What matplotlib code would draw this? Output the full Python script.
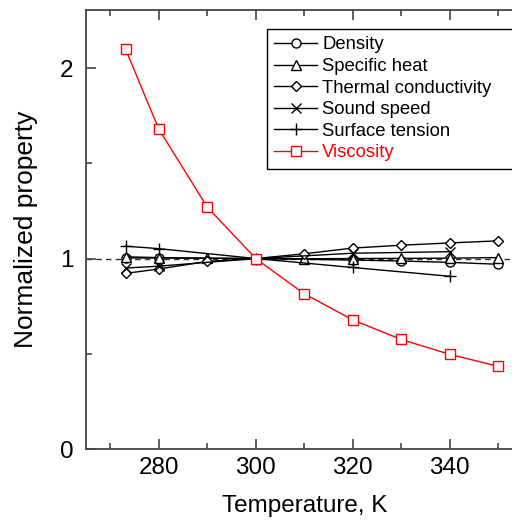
import numpy as np
import matplotlib
matplotlib.use("Agg")
import matplotlib.pyplot as plt

plt.rcParams['font.family'] = ['Liberation Sans', 'DejaVu Sans']

# 数据
T_density = [273.15, 280, 300, 320, 330, 340, 350]
density = [1.003, 1.003, 1.0, 0.992, 0.987, 0.980, 0.970]

T_cp = [273.15, 280, 290, 300, 310, 320, 330, 340, 350]
specific_heat = [1.009, 1.005, 1.002, 1.0, 0.999, 1.0, 1.001, 1.002, 1.005]

T_k = [273.15, 280, 290, 300, 310, 320, 330, 340, 350]
thermal_cond = [0.922, 0.945, 0.985, 1.0, 1.025, 1.055, 1.070, 1.082, 1.093]

T_sound = [273.15, 280, 300, 320, 340]
sound_speed = [0.950, 0.960, 1.0, 1.028, 1.036]

T_st = [273.15, 280, 300, 320, 340]
surface_tension = [1.065, 1.052, 1.0, 0.953, 0.907]

T_visc = [273.15, 280, 290, 300, 310, 320, 330, 340, 350]
viscosity = [2.10, 1.68, 1.27, 1.00, 0.815, 0.678, 0.575, 0.497, 0.434]

x_ticks = [280, 300, 320, 340]
y_ticks = [0, 1, 2]

fig = plt.figure(figsize=(5.12, 5.22), dpi=100)
ax = fig.add_axes([86 / 512, 73 / 522, 436.5 / 512, 439 / 522])

# 参考线 y=1
ax.axhline(1.0, color='#333333', linestyle=(0, (4, 3)), linewidth=1.0, zorder=1)

mk = dict(markersize=6.5, markerfacecolor='white', markeredgewidth=1.0,
          color='black', linewidth=1.0)
ax.plot(T_density, density, marker='o', label='Density', **mk)
ax.plot(T_cp, specific_heat, marker='^', label='Specific heat', **mk)
ax.plot(T_k, thermal_cond, marker='D', label='Thermal conductivity',
        **{**mk, 'markersize': 5.5})
ax.plot(T_sound, sound_speed, marker='x', label='Sound speed',
        **{**mk, 'markersize': 7})
ax.plot(T_st, surface_tension, marker='+', label='Surface tension',
        **{**mk, 'markersize': 9})
ax.plot(T_visc, viscosity, marker='s', color='red', markerfacecolor='white',
        markersize=7.5, markeredgewidth=1.0, linewidth=1.0, label='Viscosity',
        zorder=5)

ax.set_xlim(265, 355)
ax.set_ylim(0, 2.305)
ax.set_xticks(x_ticks)
ax.set_xticks([270, 290, 310, 330, 350], minor=True)
ax.set_yticks(y_ticks)
ax.set_yticks([0.5, 1.5], minor=True)
ax.tick_params(which='both', direction='in', top=True, right=False,
               labelsize=17.5, colors='#444444', labelcolor='black')
ax.tick_params(which='major', length=7, width=1.2)
ax.tick_params(which='minor', length=4, width=1.2)
ax.tick_params(axis='x', pad=6)
ax.tick_params(axis='y', pad=9)
for s in ax.spines.values():
    s.set_color('#444444')
    s.set_linewidth(1.3)

ax.set_xlabel('Temperature, K', fontsize=17.5, labelpad=11)
ax.set_ylabel('Normalized property', fontsize=19, labelpad=16)

# 图例：右侧超出画布
leg_x0 = (267 - 86) / 436.5
leg_top = (449 - 29) / 439
leg = ax.legend(loc='upper left', bbox_to_anchor=(leg_x0, leg_top - 0.3, 0.63, 0.3),
                mode='expand', borderaxespad=0, fontsize=13.3, numpoints=1,
                handlelength=2.3, handletextpad=0.3, labelspacing=0.25,
                fancybox=False, framealpha=1, edgecolor='black', borderpad=0.4)
leg.get_frame().set_linewidth(1.0)
leg.get_texts()[-1].set_color('red')

fig.savefig('out.png', dpi=100)
